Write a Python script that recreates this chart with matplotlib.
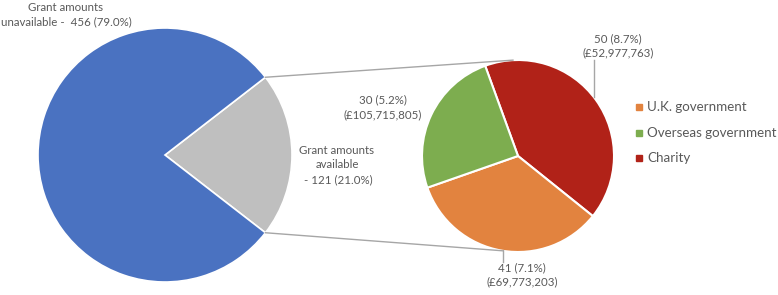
import numpy as np
import matplotlib
matplotlib.use("Agg")
import matplotlib.pyplot as plt
from matplotlib.patches import Rectangle

# Data
main_labels = ["Grant amounts available", "Grant amounts unavailable"]
main_values = [121, 456]
sub_labels = ["U.K. government", "Overseas government", "Charity"]
sub_values = [41, 30, 50]
sub_amounts = ["£69,773,203", "£105,715,805", "£52,977,763"]
sub_pct = ["7.1%", "5.2%", "8.7%"]

main_colors = ["#BFBFBF", "#4A72C1"]
sub_colors = ["#E2833F", "#7DAD4F", "#B12218"]
txt = "#595959"
line_c = "#A6A6A6"

plt.rcParams['font.family'] = ['Lato', 'DejaVu Sans']

W, H = 778, 295
fig = plt.figure(figsize=(W / 100, H / 100), dpi=100)
ax = fig.add_axes([0, 0, 1, 1])

# Main pie
c1 = (165, 140); r1 = 127
frac = main_values[0] / sum(main_values)
start1 = -frac * 180
ax.pie(main_values, colors=main_colors, center=c1, radius=r1, startangle=start1,
       counterclock=True, wedgeprops=dict(edgecolor='white', linewidth=1.2), frame=True)

# Secondary pie: Charity, UK, Overseas clockwise from 110 deg
c2 = (518, 139); r2 = 96
order = [2, 0, 1]
ax.pie([sub_values[i] for i in order], colors=[sub_colors[i] for i in order],
       center=c2, radius=r2, startangle=110, counterclock=False,
       wedgeprops=dict(edgecolor='white', linewidth=1.5), frame=True)
ax.set_xlim(0, W)
ax.set_ylim(0, H)
ax.set_aspect('equal')
ax.axis('off')

# Connector lines
a = np.deg2rad(frac * 180)
p_top = (c1[0] + r1 * np.cos(a), c1[1] + r1 * np.sin(a))
p_bot = (c1[0] + r1 * np.cos(-a), c1[1] + r1 * np.sin(-a))
q_top = (c2[0] + r2 * np.cos(np.deg2rad(93)), c2[1] + r2 * np.sin(np.deg2rad(93)))
q_bot = (c2[0] + r2 * np.cos(np.deg2rad(-99)), c2[1] + r2 * np.sin(np.deg2rad(-99)))
ax.plot([p_top[0], q_top[0]], [p_top[1], q_top[1]], color=line_c, lw=1)
ax.plot([p_bot[0], q_bot[0]], [p_bot[1], q_bot[1]], color=line_c, lw=1)

fs = 8.3
ls = 1.38
ax.text(66, 280, "Grant amounts\nunavailable -  %d (79.0%%)" % main_values[1], ha='center', va='center',
        fontsize=fs, color=txt, linespacing=ls)
ax.text(337, 130, "Grant amounts\navailable\n - %d (21.0%%)" % main_values[0], ha='center', va='center',
        fontsize=fs, color=txt, linespacing=ls)

# Sub labels
ax.text(383, 187.5, "%d (%s)\n(%s)" % (sub_values[1], sub_pct[1], sub_amounts[1]), ha='center', va='center',
        fontsize=fs, color=txt, linespacing=ls)
ax.text(618, 249, "%d (%s)\n(%s)" % (sub_values[2], sub_pct[2], sub_amounts[2]), ha='center', va='center',
        fontsize=fs, color=txt, linespacing=ls)
ax.plot([594, 594], [H - 60, H - 97], color=line_c, lw=1)
ax.text(522, 20, "%d (%s)\n(%s)" % (sub_values[0], sub_pct[0], sub_amounts[0]), ha='center', va='center',
        fontsize=fs, color=txt, linespacing=ls)
ax.plot([503, 503], [H - 250, H - 262], color=line_c, lw=1)

# Legend
ly = [107, 133, 158]
for i, y in enumerate(ly):
    ax.add_patch(Rectangle((636, H - y - 3), 6, 6, color=sub_colors[i]))
    ax.text(647, H - y, sub_labels[i], ha='left', va='center', fontsize=9.6, color=txt)

fig.savefig("out.png", dpi=100)
